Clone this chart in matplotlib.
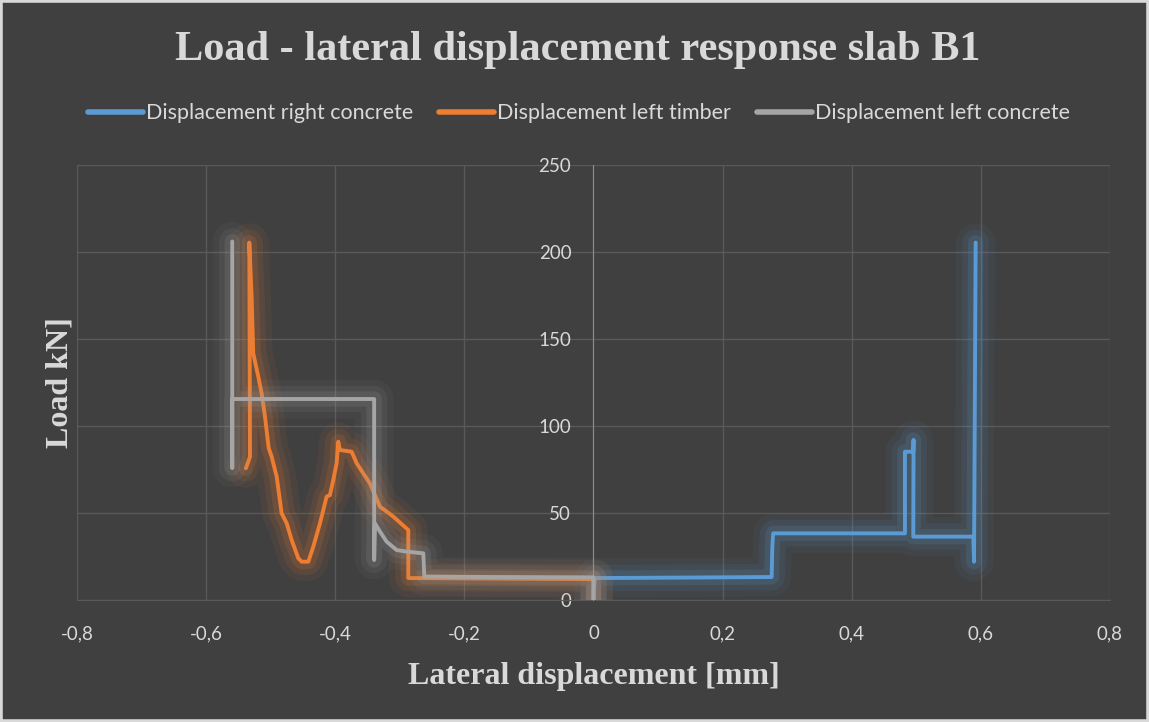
import matplotlib
matplotlib.use('Agg')
import matplotlib.pyplot as plt
import matplotlib.patheffects as pe
from matplotlib.lines import Line2D
from matplotlib.patches import Rectangle

# Load - lateral displacement data
disp_right_concrete = [0.0, 0.002, 0.15, 0.276, 0.277, 0.278, 0.2785, 0.4825, 0.4825, 0.4954,
                       0.4958, 0.4954, 0.5883, 0.5895, 0.592]
load_right_concrete = [0, 12.6, 12.9, 13.2, 30, 36.6, 38.3, 38.3, 85.2, 85.2,
                       92, 36.4, 36.4, 22, 205.4]

disp_left_timber = [0.0, 0.0, -0.15, -0.2868, -0.2868, -0.31, -0.3203, -0.3307, -0.3462, -0.3566,
                    -0.3668, -0.3745, -0.3927, -0.3953, -0.3978, -0.403, -0.4082, -0.4133, -0.4236, -0.434,
                    -0.4417, -0.452, -0.4572, -0.4675, -0.4752, -0.483, -0.4907, -0.4985, -0.503, -0.5088,
                    -0.514, -0.5192, -0.527, -0.5295, -0.5331, -0.532, -0.5383]
load_left_timber = [0, 12.0, 12.3, 12.6, 40.2, 47.9, 50.8, 53.6, 67.0, 72.8,
                    78.6, 85.2, 86.2, 91.0, 78.6, 69.0, 60.3, 59.4, 44.1, 30.6,
                    22.0, 22.0, 24.0, 34.5, 44.1, 49.8, 70.9, 82.4, 87.2, 105.4,
                    118.8, 128.4, 141.8, 174.3, 205.4, 82.4, 75.7]

disp_left_concrete = [0.0, 0.0, -0.15, -0.262, -0.2636, -0.2894, -0.3048, -0.3203, -0.3307, -0.3385,
                      -0.3397, -0.3397, -0.5595, -0.5595, -0.5595]
load_left_concrete = [0, 13.0, 13.2, 13.5, 26.8, 27.8, 28.7, 33.5, 39.3, 44.1,
                      23, 115.5, 115.5, 76, 206]

x_ticks = [-0.8, -0.6, -0.4, -0.2, 0, 0.2, 0.4, 0.6, 0.8]
x_tick_labels = ['-0,8', '-0,6', '-0,4', '-0,2', '0', '0,2', '0,4', '0,6', '0,8']
y_ticks = [0, 50, 100, 150, 200, 250]

series_names = ['Displacement right concrete', 'Displacement left timber', 'Displacement left concrete']
colors = ['#5B9BD5', '#ED7D31', '#A5A5A5']

bg = '#404040'
txt = '#D9D9D9'
grid_c = '#595959'

fig = plt.figure(figsize=(11.49, 7.22), dpi=100, facecolor=bg)
ax = fig.add_axes([0.067, 0.169, 0.899, 0.6025], facecolor=bg)

series = [(disp_right_concrete, load_right_concrete),
          (disp_left_timber, load_left_timber),
          (disp_left_concrete, load_left_concrete)]

for (xs, ys), c in zip(series, colors):
    # soft glow round each line, like the Excel glow effect
    glow = [pe.Stroke(linewidth=28, foreground=c, alpha=0.06),
            pe.Stroke(linewidth=19, foreground=c, alpha=0.09),
            pe.Stroke(linewidth=11, foreground=c, alpha=0.14),
            pe.Normal()]
    ax.plot(xs, ys, color=c, lw=2.8, solid_joinstyle='round', solid_capstyle='round',
            path_effects=glow, zorder=3)

ax.set_xlim(-0.8, 0.8)
ax.set_ylim(0, 250)
ax.set_xticks(x_ticks)
ax.set_xticklabels(x_tick_labels)
ax.set_yticks(y_ticks)
ax.grid(True, color=grid_c, lw=1)
ax.set_axisbelow(True)

# vertical axis crosses at x = 0
ax.spines['left'].set_position(('data', 0))
ax.spines['left'].set_color('#8C8C8C')
ax.spines['left'].set_zorder(2.6)
ax.spines['bottom'].set_color(grid_c)
ax.spines['top'].set_visible(False)
ax.spines['right'].set_visible(False)
ax.tick_params(axis='x', length=0, pad=18, colors=txt, labelsize=13.5)
ax.tick_params(axis='y', length=0, pad=16, colors=txt, labelsize=13.5)
for lab in ax.get_xticklabels() + ax.get_yticklabels():
    lab.set_family('Lato')

ax.set_xlabel('Lateral displacement [mm]', family='Liberation Serif', weight='bold',
              fontsize=23, color=txt)
ax.xaxis.set_label_coords(0.5, -0.1425)
ax.set_ylabel('Load kN]', family='Liberation Serif', weight='bold', fontsize=23, color=txt)
ax.yaxis.set_label_coords(-0.002, 0.5)

fig.text(0.503, 0.931, 'Load - lateral displacement response slab B1', ha='center', va='center',
         family='Liberation Serif', weight='bold', fontsize=30.4, color=txt)

handles = [Line2D([0], [0], color=c, lw=4, solid_capstyle='round') for c in colors]
fig.legend(handles, series_names, loc='center', bbox_to_anchor=(0.504, 0.843), ncol=3,
           frameon=False, prop={'family': 'Lato', 'size': 15.5}, labelcolor=txt,
           handlelength=2.55, handletextpad=0.15, columnspacing=1.2)

fig.patches.append(Rectangle((0, 0), 1, 1, transform=fig.transFigure, fill=False,
                             edgecolor='#D9D9D9', lw=4))

fig.savefig('out.png', dpi=100, facecolor=bg)
